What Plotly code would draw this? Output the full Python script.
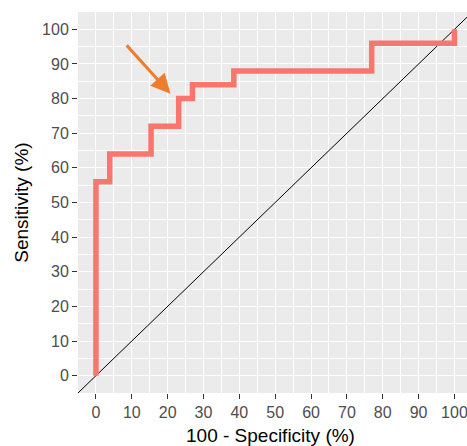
import plotly.graph_objects as go

# ROC curve coordinates (100 - specificity vs sensitivity, in %)
fpr = [0, 0, 3.85, 3.85, 15.38, 15.38, 23.08, 23.08, 26.92, 26.92,
       38.46, 38.46, 76.92, 76.92, 100, 100]
tpr = [0, 56, 56, 64, 64, 72, 72, 80, 80, 84, 84, 88, 88, 96, 96, 100]

# chance diagonal
diag = [-10, 110]

tick_vals = list(range(0, 101, 10))
tick_text = [str(v) for v in tick_vals]

# highlighted threshold arrow (tail -> head)
arrow_tail = (8.2, 95.8)
arrow_head = (20.8, 81.4)

fig = go.Figure()
fig.add_trace(go.Scatter(x=diag, y=diag, mode="lines",
                         line=dict(color="black", width=1),
                         hoverinfo="skip", showlegend=False))
fig.add_trace(go.Scatter(x=fpr, y=tpr, mode="lines",
                         line=dict(color="#F8766D", width=5.5),
                         showlegend=False))

fig.add_annotation(x=arrow_head[0], y=arrow_head[1], ax=arrow_tail[0], ay=arrow_tail[1],
                   xref="x", yref="y", axref="x", ayref="y",
                   text="", showarrow=True, arrowhead=2, arrowsize=1.3,
                   arrowwidth=3, arrowcolor="#EE7E2D", standoff=0)

font = "Liberation Sans, Arial, sans-serif"
axis_common = dict(
    tickmode="array", tickvals=tick_vals, ticktext=tick_text,
    ticks="outside", ticklen=5, tickwidth=1, tickcolor="#333333",
    tickfont=dict(family=font, size=16, color="#4D4D4D"),
    ticklabeloverflow="allow",
    showgrid=True, gridcolor="white", gridwidth=1.4,
    minor=dict(tickmode="linear", tick0=5, dtick=10, showgrid=True,
               gridcolor="white", gridwidth=0.7, ticks=""),
    zeroline=False, showline=False, fixedrange=True,
)

fig.update_xaxes(range=[-5, 103.5], **axis_common)
fig.update_yaxes(range=[-5, 105], **axis_common)

fig.add_annotation(text="Sensitivity (%)", xref="paper", yref="paper",
                   x=-0.178, y=0.5, showarrow=False, textangle=-90,
                   font=dict(family=font, size=19, color="black"))
fig.add_annotation(text="100 - Specificity (%)", xref="paper", yref="paper",
                   x=0.495, y=-0.145, showarrow=False,
                   font=dict(family=font, size=19, color="black"))

fig.update_layout(
    width=467, height=446,
    margin=dict(l=78, r=0, t=12, b=53),
    plot_bgcolor="#EBEBEB", paper_bgcolor="white",
)

fig.write_html("out.html")
